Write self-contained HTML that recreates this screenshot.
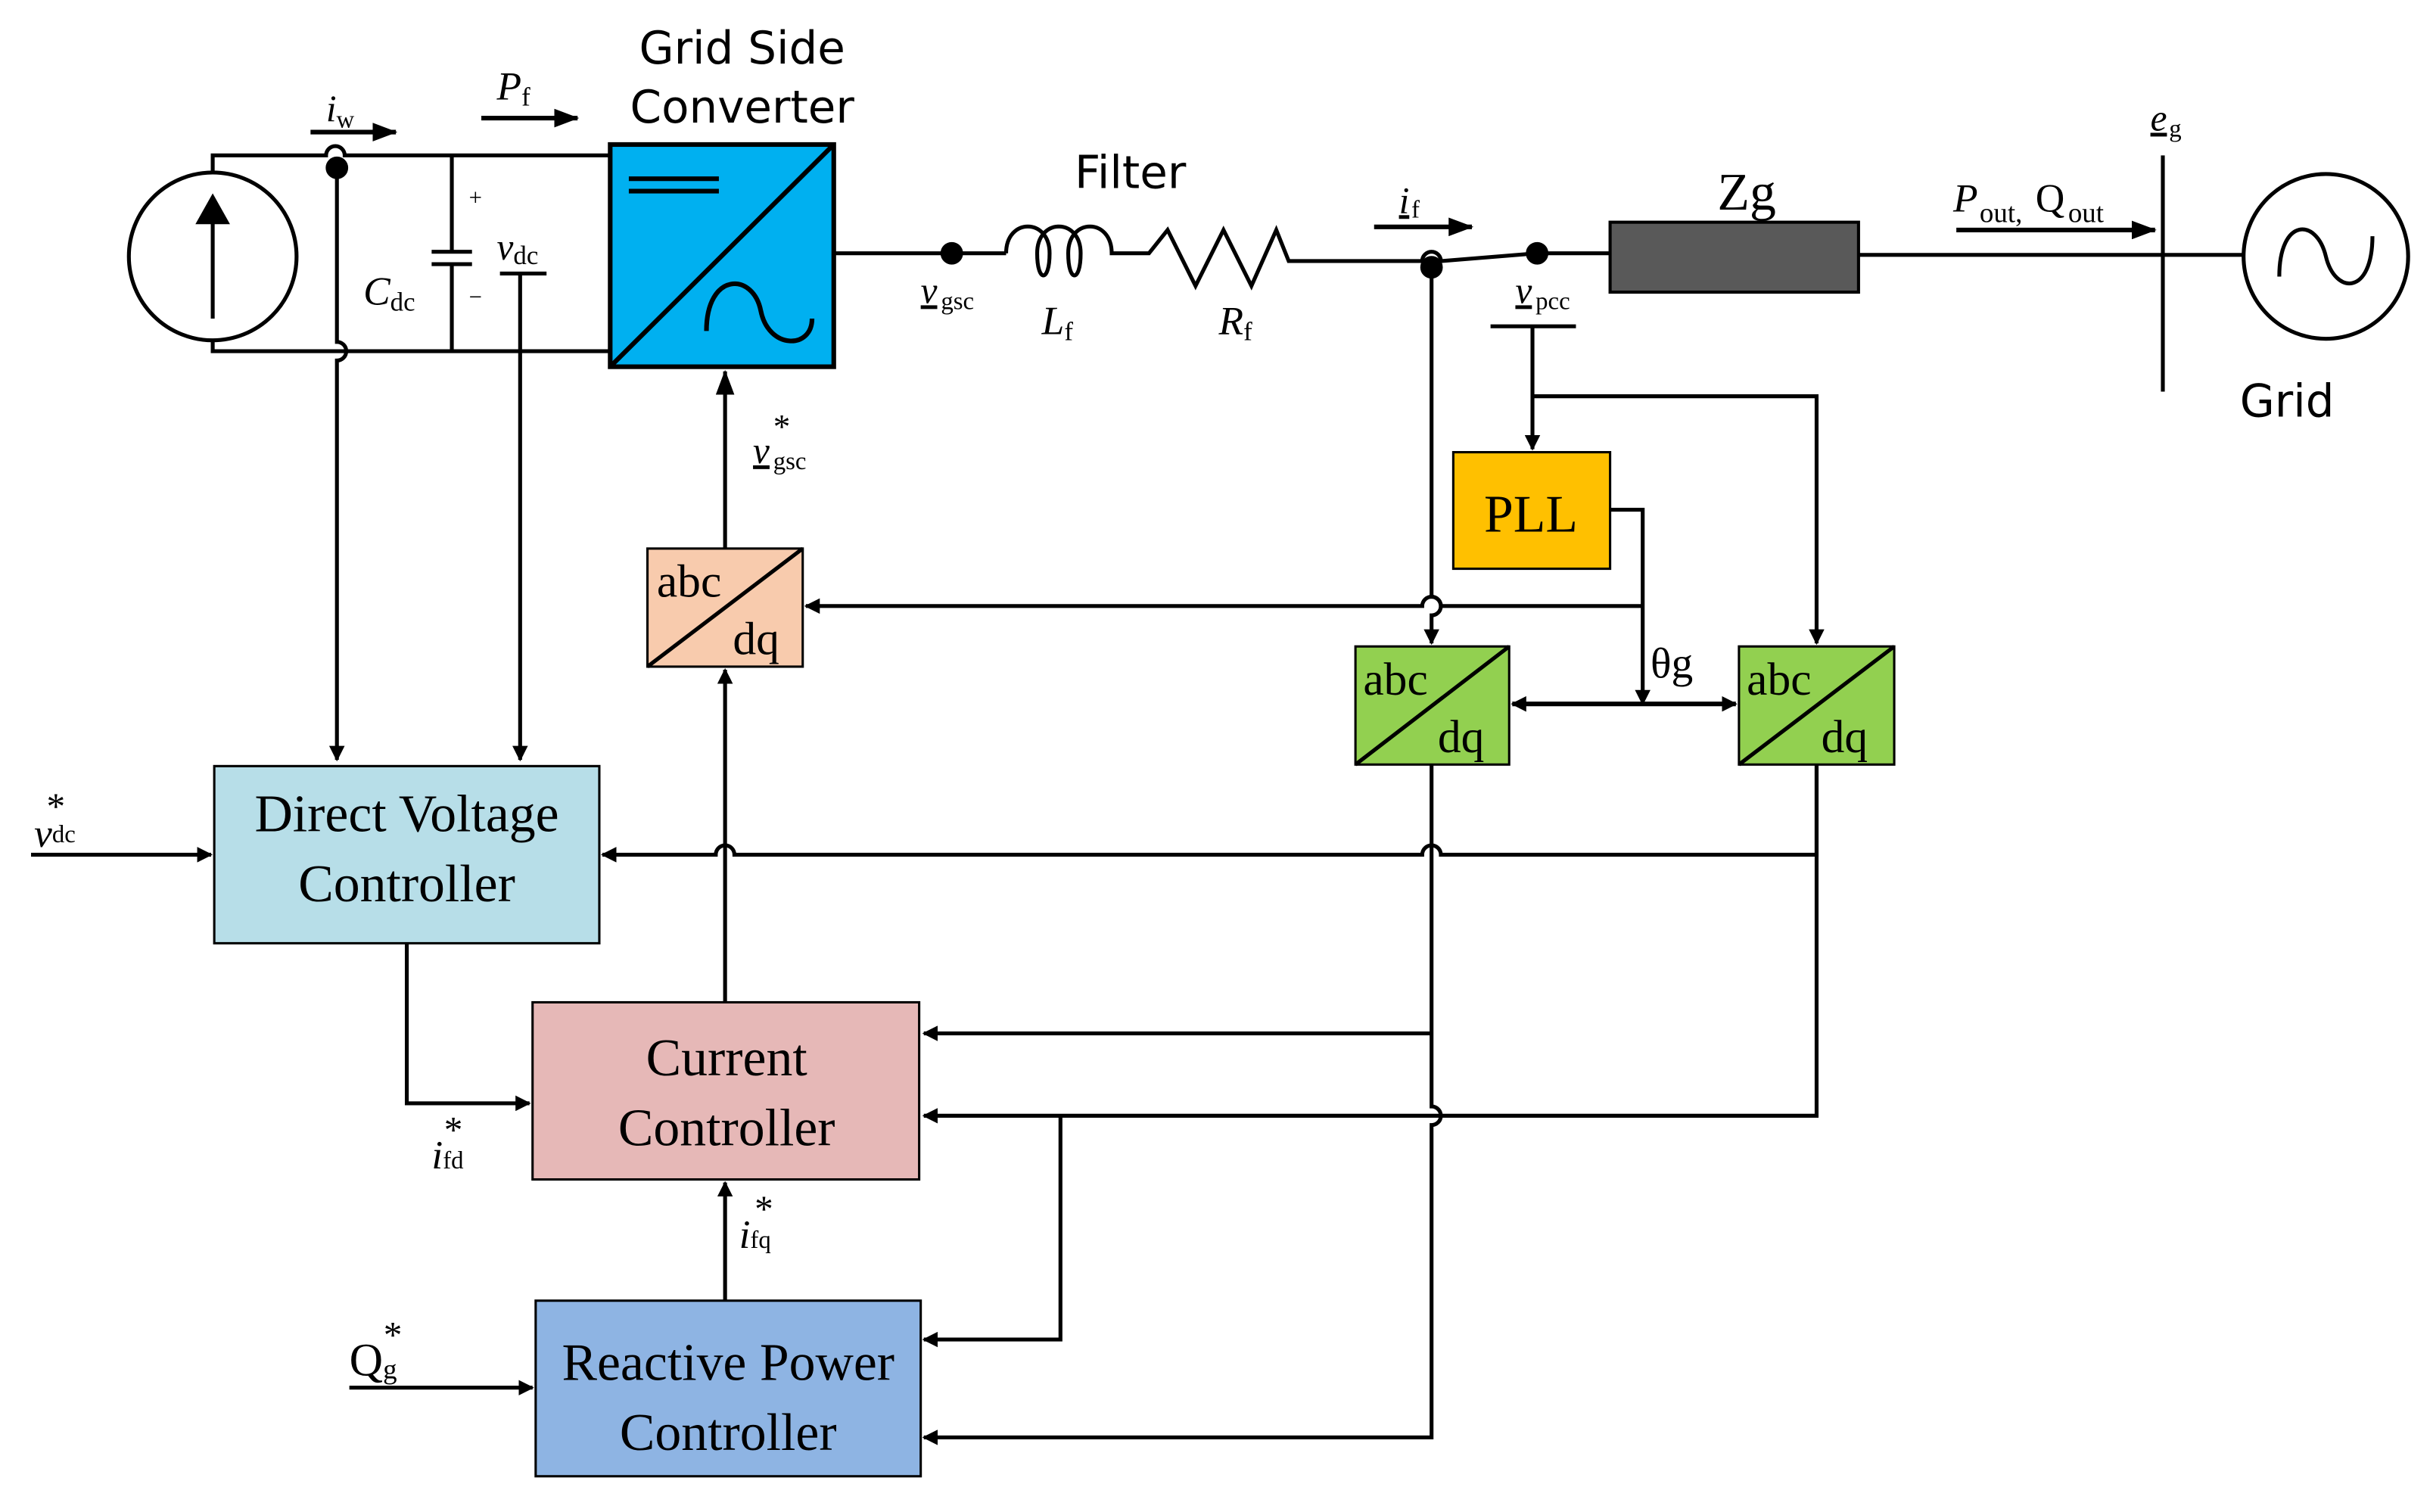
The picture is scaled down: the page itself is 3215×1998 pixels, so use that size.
<!DOCTYPE html>
<html><head><meta charset="utf-8"><style>
html,body{margin:0;padding:0;background:#fff;}
svg{display:block;}
text{font-family:"Liberation Serif",serif;fill:#000;}
.s{font-family:"DejaVu Sans","Liberation Sans",sans-serif;}
</style></head><body>
<svg width="3215" height="1998" viewBox="0 0 1567 973" preserveAspectRatio="none" xmlns="http://www.w3.org/2000/svg">
<defs>
<marker id="a" markerWidth="10" markerHeight="10" refX="9" refY="5" orient="auto" markerUnits="userSpaceOnUse"><path d="M0,0 L10,5 L0,10 Z" fill="#000"/></marker>
<marker id="b" markerWidth="16" markerHeight="12" refX="15" refY="6" orient="auto" markerUnits="userSpaceOnUse"><path d="M0,0 L16,6 L0,12 Z" fill="#000"/></marker>
<marker id="as" markerWidth="10" markerHeight="10" refX="1" refY="5" orient="auto" markerUnits="userSpaceOnUse"><path d="M10,0 L0,5 L10,10 Z" fill="#000"/></marker>
</defs>
<g stroke="#000" stroke-width="2.5" fill="none">
<circle cx="137" cy="165" r="54"/>
<line x1="137" y1="205" x2="137" y2="133"/>
<path d="M128,143 L137,127 L146,143 Z" fill="#000"/>
<path d="M137,111 V100 H210 a6,6 0 0 1 12,0 H393"/>
<path d="M137,219 V226 H393"/>
<circle cx="217" cy="108" r="6" fill="#000"/>
<path d="M217,108 V220 a6,6 0 0 1 0,12 V489" marker-end="url(#a)"/>
<path d="M291,100 V162 M278,162 H304 M278,170 H304 M291,170 V226"/>
<path d="M322,176 H352 M335,176 V489" marker-end="url(#a)"/>
<rect x="393" y="93" width="144" height="143" fill="#00b0f0" stroke-width="3"/>
<line x1="393" y1="236" x2="537" y2="93" stroke-width="3"/>
<path d="M405,115 H463 M405,123 H463" stroke-width="3"/>
<path d="M455,213 C455,175 485,175 490,200 C495,225 523,225 523,205" stroke-width="3"/>
<path d="M200,85 H255" marker-end="url(#b)" stroke-width="3"/>
<path d="M310,76 H372" marker-end="url(#b)" stroke-width="3"/>
<path d="M537,163 H648"/>
<circle cx="613" cy="163" r="6" fill="#000"/>
<path d="M648,163 C648,140 676,140 676,163 C676,182 668,182 668,163 C668,140 696,140 696,163 C696,182 688,182 688,163 C688,140 716,140 716,163 H740 L752,148 L770,184 L788,148 L806,184 L822,148 L830,168 H916 a6,6 0 0 1 12,0 L990,163 H1037"/>
<circle cx="922" cy="172" r="6" fill="#000"/>
<circle cx="990" cy="163" r="6" fill="#000"/>
<path d="M885,146 H948" marker-end="url(#b)" stroke-width="3"/>
<rect x="1037" y="143" width="160" height="45" fill="#595959" stroke-width="2"/>
<path d="M1197,164 H1445"/>
<line x1="1393" y1="100" x2="1393" y2="252"/>
<path d="M1260,148 H1388" marker-end="url(#b)" stroke-width="3"/>
<circle cx="1498" cy="165" r="53"/>
<path d="M1468,178 C1468,140 1492,140 1498,165 C1504,190 1528,190 1528,152"/>
<path d="M960,210 H1015"/>
<path d="M987,210 V289" marker-end="url(#a)"/>
<path d="M987,255 H1170 V414" marker-end="url(#a)"/>
<rect x="936" y="291" width="101" height="75" fill="#ffc000" stroke-width="1.5"/>
<path d="M1037,328 H1058 V453" marker-end="url(#a)"/>
<path d="M922,172 V384 a6,6 0 0 1 0,12 V414" marker-end="url(#a)"/>
<path d="M1058,390 H928 a6,6 0 0 0 -12,0 H519" marker-end="url(#a)"/>
<rect x="873" y="416" width="99" height="76" fill="#92d050" stroke-width="1.5"/>
<line x1="873" y1="492" x2="972" y2="416"/>
<rect x="1120" y="416" width="100" height="76" fill="#92d050" stroke-width="1.5"/>
<line x1="1120" y1="492" x2="1220" y2="416"/>
<path d="M974,453 H1118" marker-start="url(#as)" marker-end="url(#a)" stroke-width="3"/>
<rect x="417" y="353" width="100" height="76" fill="#f8cbad" stroke-width="1.5"/>
<line x1="417" y1="429" x2="517" y2="353"/>
<path d="M467,353 V239" marker-end="url(#b)"/>
<rect x="138" y="493" width="248" height="114" fill="#b7dee8" stroke-width="1.5"/>
<path d="M20,550 H136" marker-end="url(#a)"/>
<path d="M1170,492 V550 H928 a6,6 0 0 0 -12,0 H473 a6,6 0 0 0 -12,0 H388" marker-end="url(#a)"/>
<path d="M262,607 V710 H341" marker-end="url(#a)"/>
<rect x="343" y="645" width="249" height="114" fill="#e6b8b7" stroke-width="1.5"/>
<path d="M467,645 V431" marker-end="url(#a)"/>
<path d="M922,492 V712 a6,6 0 0 1 0,12 V925 H595" marker-end="url(#a)"/>
<path d="M922,665 H595" marker-end="url(#a)"/>
<path d="M1170,492 V718 H595" marker-end="url(#a)"/>
<path d="M683,718 V862 H595" marker-end="url(#a)"/>
<rect x="345" y="837" width="248" height="113" fill="#8eb4e3" stroke-width="1.5"/>
<path d="M467,837 V761" marker-end="url(#a)"/>
<path d="M225,893 H343" marker-end="url(#a)"/>
</g>
<text class="s" x="478" y="41" font-size="29" text-anchor="middle">Grid Side</text>
<text class="s" x="478" y="79" font-size="29" text-anchor="middle">Converter</text>
<text class="s" x="728" y="121" font-size="29" text-anchor="middle">Filter</text>
<text class="s" x="1473" y="268" font-size="29" text-anchor="middle">Grid</text>
<text x="210" y="78" font-size="24" font-style="italic">i<tspan font-size="16" font-style="normal" dy="4">w</tspan></text>
<text x="320" y="64" font-size="26" font-style="italic">P<tspan font-size="17" font-style="normal" dy="4">f</tspan></text>
<text x="302" y="132" font-size="15">+</text>
<text x="302" y="196" font-size="15">−</text>
<text x="234" y="196" font-size="26" font-style="italic">C<tspan font-size="17" font-style="normal" dy="4">dc</tspan></text>
<text x="320" y="167" font-size="24" font-style="italic">v<tspan font-size="17" font-style="normal" dy="3">dc</tspan></text>
<text x="593" y="195" font-size="24" font-style="italic" text-decoration="underline">v</text><text x="606" y="199" font-size="16">gsc</text>
<text x="671" y="215" font-size="26" font-style="italic">L<tspan font-size="17" font-style="normal" dy="4">f</tspan></text>
<text x="785" y="215" font-size="26" font-style="italic">R<tspan font-size="17" font-style="normal" dy="4">f</tspan></text>
<text x="901" y="137" font-size="24" font-style="italic" text-decoration="underline">i</text><text x="909" y="140" font-size="16">f</text>
<text x="976" y="195" font-size="24" font-style="italic" text-decoration="underline">v</text><text x="989" y="199" font-size="16">pcc</text>
<text x="1125" y="135" font-size="34" text-anchor="middle">Zg</text>
<text x="1258" y="136" font-size="26" font-style="italic">P</text><text x="1275" y="143" font-size="18">out,</text><text x="1311" y="136" font-size="26">Q</text><text x="1332" y="143" font-size="18">out</text>
<text x="1385" y="84" font-size="24" font-style="italic" text-decoration="underline">e</text><text x="1397" y="88" font-size="16">g</text>
<text x="485" y="298" font-size="24" font-style="italic" text-decoration="underline">v</text><text x="498" y="302" font-size="16">gsc</text><text x="498" y="282" font-size="22">*</text>
<text x="986" y="342" font-size="34" text-anchor="middle">PLL</text>
<text x="1063" y="436" font-size="28">θg</text>
<text x="423" y="384" font-size="30">abc</text><text x="472" y="421" font-size="30">dq</text>
<text x="878" y="447" font-size="30">abc</text><text x="926" y="484" font-size="30">dq</text>
<text x="1125" y="447" font-size="30">abc</text><text x="1173" y="484" font-size="30">dq</text>
<text x="262" y="535" font-size="34" text-anchor="middle">Direct Voltage</text>
<text x="262" y="580" font-size="34" text-anchor="middle">Controller</text>
<text x="468" y="692" font-size="34" text-anchor="middle">Current</text>
<text x="468" y="737" font-size="34" text-anchor="middle">Controller</text>
<text x="469" y="888" font-size="34" text-anchor="middle">Reactive Power</text>
<text x="469" y="933" font-size="34" text-anchor="middle">Controller</text>
<text x="22" y="545" font-size="26" font-style="italic">v<tspan font-size="16" font-style="normal" dy="-3">dc</tspan></text><text x="30" y="527" font-size="24">*</text>
<text x="278" y="752" font-size="26" font-style="italic">i<tspan font-size="16" font-style="normal">fd</tspan></text><text x="286" y="735" font-size="24">*</text>
<text x="476" y="803" font-size="26" font-style="italic">i<tspan font-size="16" font-style="normal">fq</tspan></text><text x="486" y="786" font-size="24">*</text>
<text x="225" y="885" font-size="30">Q<tspan font-size="18" dy="2">g</tspan></text><text x="247" y="867" font-size="24">*</text>
</svg>
</body></html>
